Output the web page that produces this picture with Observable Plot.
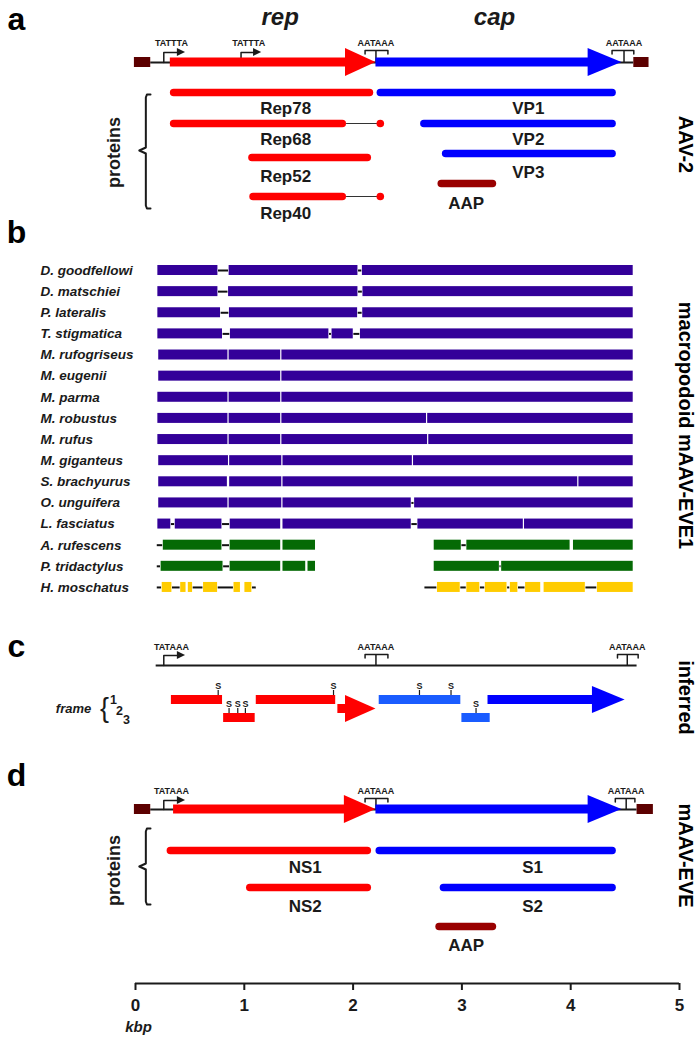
<!DOCTYPE html>
<html><head><meta charset="utf-8">
<script src="https://cdn.jsdelivr.net/npm/d3@7"></script>
<script src="https://cdn.jsdelivr.net/npm/@observablehq/plot@0.6"></script>
<style>
html,body{margin:0;padding:0;background:#fff;}
#chart svg{display:block;}
#chart g[aria-label="x-axis tick label"]{font-weight:bold !important;font-size:17px !important;}
</style></head><body><div id="chart"></div>
<script>
// ================= DATA (kbp) =================
// --- a: AAV-2 ---
const aavBoxes = [[-0.01, 0.14], [4.58, 4.72]];
const aavGeneNames = ["rep", "cap"];
const aavGeneStart = [0.32, 2.21];
const aavGeneHead = [1.93, 4.16];
const aavGeneEnd = [2.21, 4.47];
const aavPromoterLabels = ["TATTTA", "TATTTA"];
const aavPromoterX = [0.26, 0.97];
const aavPromoterEnd = [0.46, 1.16];
const aavPolyALabels = ["AATAAA", "AATAAA"];
const aavPolyAX = [2.21, 4.49];
const aavPolyASpan = [[2.11, 2.32], [4.38, 4.58]];
const aavRepNames = ["Rep78", "Rep68", "Rep52", "Rep40"];
const aavRepStart = [0.32, 0.32, 1.04, 1.05];
const aavRepEnd = [2.19, 1.94, 2.17, 1.94];
const aavRepSplice = [null, 2.25, null, 2.25];
const aavCapNames = ["VP1", "VP2", "VP3"];
const aavCapStart = [2.22, 2.62, 2.82];
const aavCapEnd = [4.42, 4.42, 4.42];
const aavAAP = [2.78, 3.32];

// --- b: macropodoid mAAV-EVE1 ---
const eveSpecies = ["D. goodfellowi","D. matschiei","P. lateralis","T. stigmatica","M. rufogriseus","M. eugenii","M. parma","M. robustus","M. rufus","M. giganteus","S. brachyurus","O. unguifera","L. fasciatus","A. rufescens","P. tridactylus","H. moschatus"];
const eveClade = ["macropodid","macropodid","macropodid","macropodid","macropodid","macropodid","macropodid","macropodid","macropodid","macropodid","macropodid","macropodid","macropodid","potoroid","potoroid","hypsiprymnodontid"];
const eveBlocks = [
  [[0.2,0.763],[0.855,2.05],[2.08,4.58]],
  [[0.2,0.763],[0.85,2.05],[2.085,4.58]],
  [[0.2,0.787],[0.858,2.047],[2.083,4.58]],
  [[0.2,0.805],[0.867,1.783],[1.801,2.007],[2.062,4.58]],
  [[0.208,0.855],[0.855,1.34],[1.34,4.58]],
  [[0.208,1.34],[1.34,4.58]],
  [[0.2,0.855],[0.855,1.34],[1.34,4.58]],
  [[0.2,0.855],[0.855,1.34],[1.34,2.68],[2.68,4.58]],
  [[0.2,0.855],[0.855,1.34],[1.34,2.69],[2.69,4.58]],
  [[0.208,0.86],[0.86,1.35],[1.35,2.55],[2.55,4.58]],
  [[0.208,0.85],[0.86,1.35],[1.35,4.07],[4.07,4.58]],
  [[0.208,0.855],[0.855,1.35],[1.35,2.54],[2.56,4.58]],
  [[0.2,0.33],[0.36,0.8],[0.865,1.34],[1.35,2.54],[2.59,3.57],[3.57,4.58]],
  [[0.25,0.8],[0.864,1.34],[1.35,1.66],[2.74,3.0],[3.04,4.0],[4.02,4.58]],
  [[0.23,0.81],[0.864,1.34],[1.35,1.57],[1.58,1.66],[2.74,3.35],[3.36,4.58]],
  [[0.24,0.34],[0.41,0.47],[0.48,0.53],[0.62,0.76],[0.9,0.97],[1.0,1.075],[2.77,2.99],[3.04,3.17],[3.21,3.42],[3.44,3.52],[3.58,3.73],[3.75,4.14],[4.24,4.58]]
];
const eveLinks = [
  [[0.763,0.855],[2.05,2.08]],
  [[0.763,0.85],[2.05,2.085]],
  [[0.787,0.858],[2.047,2.083]],
  [[0.805,0.867],[1.783,1.801],[2.007,2.062]],
  [],[],[],[],[],[],[],
  [[2.54,2.56]],
  [[0.33,0.36],[0.8,0.865],[2.54,2.59]],
  [[0.2,0.25],[0.8,0.864],[3.0,3.04]],
  [[0.2,0.23],[0.81,0.864],[3.35,3.36]],
  [[0.2,0.24],[0.34,0.41],[0.53,0.62],[0.76,0.9],[1.075,1.11],[2.66,2.77],[2.99,3.04],[3.17,3.21],[3.42,3.44],[3.52,3.58],[4.14,4.24]]
];

// --- c: inferred ---
const ancSpan = [0.19, 4.61];
const ancPromoterLabels = ["TATAAA"];
const ancPromoterX = [0.26];
const ancPromoterEnd = [0.46];
const ancPolyALabels = ["AATAAA", "AATAAA"];
const ancPolyAX = [2.21, 4.52];
const ancPolyASpan = [[2.11, 2.32], [4.43, 4.62]];
const orfFrame = [1, 3, 1, 1, 3];
const orfGene = ["rep", "rep", "rep", "cap", "cap"];
const orfStart = [0.33, 0.81, 1.11, 2.24, 3.00];
const orfEnd = [0.80, 1.10, 1.84, 2.99, 3.26];
const ancArrowFrame = [2, 1];
const ancArrowGene = ["rep", "cap"];
const ancArrowStart = [1.86, 3.24];
const ancArrowHead = [1.93, 4.20];
const ancArrowEnd = [2.21, 4.50];
const stopFrame = [1, 3, 3, 3, 1, 1, 1, 3];
const stopX = [0.76, 0.86, 0.94, 1.01, 1.82, 2.61, 2.90, 3.13];
const frameNames = ["1", "2", "3"];

// --- d: mAAV-EVE ---
const mBoxes = [[-0.01, 0.14], [4.61, 4.76]];
const mGeneNames = ["rep", "cap"];
const mGeneStart = [0.35, 2.21];
const mGeneHead = [1.92, 4.16];
const mGeneEnd = [2.21, 4.47];
const mPromoterLabels = ["TATAAA"];
const mPromoterX = [0.26];
const mPromoterEnd = [0.46];
const mPolyALabels = ["AATAAA", "AATAAA"];
const mPolyAX = [2.21, 4.51];
const mPolyASpan = [[2.11, 2.32], [4.41, 4.59]];
const mNSNames = ["NS1", "NS2"];
const mNSStart = [0.29, 1.02];
const mNSEnd = [2.17, 2.17];
const mSNames = ["S1", "S2"];
const mSStart = [2.21, 2.80];
const mSEnd = [4.42, 4.42];
const mAAP = [2.76, 3.32];

const axisTicks = [0, 1, 2, 3, 4, 5];
const panelLetters = ["a", "b", "c", "d"];
const sideLabels = ["AAV-2", "macropodoid mAAV-EVE1", "inferred", "mAAV-EVE"];

// ================= LAYOUT & STYLE =================
const FONT = "'Liberation Sans', Arial, Helvetica, sans-serif";
const INK = "#1a1a1a";
const geneColor = {rep: "#ff0000", cap: "#0000ff", aap: "#990000"};
const orfColor = {rep: "#ff0000", cap: "#1a5cff"};
const cladeColor = {macropodid: "#330099", potoroid: "#056a05", hypsiprymnodontid: "#ffcc00"};
const BOX = "#5c0000";
const capK = 3.8 / 108.8;

const LA = {sig: 43, polyBar: 50, promoterTop: 52, genome: 62, title: 17, titleX: [1.33, 3.30],
  repY: [92, 123, 157, 196], repLabelY: [108, 139, 176, 213], capY: [92, 123, 153], capLabelY: [108, 139, 172],
  aapY: 183, aapLabelY: 203, bracket: [94, 150, 208], proteinsY: 152,
  repLabelX: 1.38, capLabelX: 3.61, aapLabelX: 3.04};
const LB = {first: 270, step: 21.13, half: 5};
const LC = {sig: 647, polyBar: 654, promoterTop: 655, genome: 665, frameY: {1: 699.5, 2: 708.5, 3: 717.5},
  digitDx: [-22, -16, -9], digitDy: [0, 1.5, 2]};
const LD = {sig: 791, polyBar: 798, promoterTop: 800, genome: 809,
  nsY: [850, 887], nsLabelY: [867, 906], sY: [850, 887], sLabelY: [867, 906],
  aapY: 926, aapLabelY: 945, bracket: [828, 866, 904], proteinsY: 870,
  nsLabelX: 1.56, sLabelX: 3.65, aapLabelX: 3.04};
const letterY = [19, 232, 646, 775];
const sideY = [144, 425, 697, 855];
const AXIS_Y = 983, KBP_Y = 1027;
const bracketX = {end: 0.138, stem: 0.095, tip: 0.035};

const marks = [];

// ---------- helpers ----------
function genomeMarks(g, L) {
  const out = [];
  out.push(Plot.ruleY([L.genome], {x1: g.span[0], x2: g.span[1], stroke: INK, strokeWidth: 2}));
  const pr = g.promoterX.map((x, i) => ({x, end: g.promoterEnd[i], label: g.promoterLabels[i]}));
  out.push(Plot.line(pr.flatMap((p, i) => [
    {i, x: p.x, y: L.genome}, {i, x: p.x, y: L.promoterTop}, {i, x: p.end - 0.06, y: L.promoterTop}]),
    {x: "x", y: "y", z: "i", stroke: INK, strokeWidth: 1.5}));
  out.push(Plot.areaY(pr.flatMap((p, i) => [
    {i, x: p.end - 0.075, y1: L.promoterTop - 4, y2: L.promoterTop + 4},
    {i, x: p.end, y1: L.promoterTop, y2: L.promoterTop}]),
    {x: "x", y1: "y1", y2: "y2", z: "i", fill: INK}));
  out.push(Plot.text(pr, {x: d => d.x + 0.07, y: () => L.sig, text: "label", fontSize: 9, fontWeight: "bold", fill: INK}));
  const pa = g.polyAX.map((x, i) => ({x, x1: g.polyASpan[i][0], x2: g.polyASpan[i][1], label: g.polyALabels[i]}));
  out.push(Plot.line(pa.flatMap((p, i) => [
    {i, x: p.x1, y: L.polyBar + 3.5}, {i, x: p.x1, y: L.polyBar}, {i, x: p.x2, y: L.polyBar}, {i, x: p.x2, y: L.polyBar + 3.5}]),
    {x: "x", y: "y", z: "i", stroke: INK, strokeWidth: 1.5}));
  out.push(Plot.ruleX(pa, {x: "x", y1: () => L.polyBar, y2: () => L.genome, stroke: INK, strokeWidth: 1.5}));
  out.push(Plot.text(pa, {x: "x", y: () => L.sig, text: "label", fontSize: 9, fontWeight: "bold", fill: INK}));
  if (g.geneStart) {
    const genes = g.geneStart.map((s, i) => ({s, h: g.geneHead[i], e: g.geneEnd[i], c: geneColor[g.geneNames[i]]}));
    out.push(Plot.rect(genes, {x1: "s", x2: d => d.h + 0.01, y1: () => L.genome - 4.5, y2: () => L.genome + 4.5, fill: "c"}));
    out.push(Plot.areaY(genes.flatMap((d, i) => [
      {i, x: d.h, y1: L.genome - 14, y2: L.genome + 14, c: d.c},
      {i, x: d.e, y1: L.genome, y2: L.genome, c: d.c}]),
      {x: "x", y1: "y1", y2: "y2", z: "i", fill: "c"}));
  }
  if (g.boxes) {
    out.push(Plot.rect(g.boxes, {x1: d => d[0], x2: d => d[1], y1: () => L.genome - 5, y2: () => L.genome + 5, fill: BOX}));
  }
  return out;
}

function proteinMarks(items) {
  return [Plot.ruleY(items, {x1: d => d.s + capK, x2: d => d.e - capK, y: "y", stroke: "c", strokeWidth: 7.5, strokeLinecap: "round"})];
}
function labelMarks(items) {
  return [Plot.text(items, {x: "x", y: "y", text: "t", fontSize: 17, fontWeight: "bold", fill: INK})];
}
function bracketMarks(b) {
  const [top, mid, bot] = b;
  const pts = [
    {x: bracketX.end, y: top}, {x: bracketX.stem + 0.01, y: top}, {x: bracketX.stem, y: top + 3},
    {x: bracketX.stem, y: mid - 3}, {x: bracketX.tip, y: mid}, {x: bracketX.stem, y: mid + 3},
    {x: bracketX.stem, y: bot - 3}, {x: bracketX.stem + 0.01, y: bot}, {x: bracketX.end, y: bot}];
  return [Plot.line(pts, {x: "x", y: "y", stroke: INK, strokeWidth: 2, curve: "linear"})];
}

// ---------- panel a ----------
marks.push(...genomeMarks({boxes: aavBoxes, span: [aavBoxes[0][1], aavBoxes[1][0]], geneNames: aavGeneNames, geneStart: aavGeneStart, geneHead: aavGeneHead, geneEnd: aavGeneEnd,
  promoterLabels: aavPromoterLabels, promoterX: aavPromoterX, promoterEnd: aavPromoterEnd,
  polyALabels: aavPolyALabels, polyAX: aavPolyAX, polyASpan: aavPolyASpan}, LA));
marks.push(Plot.text(aavGeneNames, {x: (d, i) => LA.titleX[i], y: () => LA.title, fontSize: 24, fontWeight: "bold", fontStyle: "italic", fill: INK}));
const repTails = aavRepNames.map((n, i) => ({s: aavRepEnd[i], e: aavRepSplice[i], y: LA.repY[i]})).filter(d => d.e != null);
marks.push(Plot.ruleY(repTails, {x1: "s", x2: "e", y: "y", stroke: "#333", strokeWidth: 1.2}));
marks.push(Plot.dot(repTails, {x: "e", y: "y", r: 3.8, fill: geneColor.rep, stroke: "none"}));
marks.push(...proteinMarks([
  ...aavRepNames.map((n, i) => ({s: aavRepStart[i], e: aavRepEnd[i], y: LA.repY[i], c: geneColor.rep})),
  ...aavCapNames.map((n, i) => ({s: aavCapStart[i], e: aavCapEnd[i], y: LA.capY[i], c: geneColor.cap})),
  {s: aavAAP[0], e: aavAAP[1], y: LA.aapY, c: geneColor.aap}]));
marks.push(...labelMarks([
  ...aavRepNames.map((t, i) => ({t, x: LA.repLabelX, y: LA.repLabelY[i]})),
  ...aavCapNames.map((t, i) => ({t, x: LA.capLabelX, y: LA.capLabelY[i]})),
  {t: "AAP", x: LA.aapLabelX, y: LA.aapLabelY}]));
marks.push(...bracketMarks(LA.bracket));

// ---------- panel b ----------
const rowY = i => LB.first + i * LB.step;
const eveBars = eveSpecies.flatMap((s, i) => eveBlocks[i].map(b => ({i, x1: b[0], x2: b[1], c: cladeColor[eveClade[i]]})));
const eveLinkData = eveSpecies.flatMap((s, i) => eveLinks[i].map(b => ({i, x1: b[0], x2: b[1]})));
marks.push(Plot.ruleY(eveLinkData, {x1: "x1", x2: "x2", y: d => rowY(d.i), stroke: "#111", strokeWidth: 2}));
marks.push(Plot.rect(eveBars, {x1: "x1", x2: "x2", y1: d => rowY(d.i) - LB.half, y2: d => rowY(d.i) + LB.half, fill: "c", insetLeft: 0.6, insetRight: 0.6}));
marks.push(Plot.text(eveSpecies, {y: (d, i) => rowY(i), frameAnchor: "left", dx: -95, textAnchor: "start", fontSize: 13.5, fontWeight: "bold", fontStyle: "italic", fill: INK}));

// ---------- panel c ----------
marks.push(...genomeMarks({span: ancSpan, promoterLabels: ancPromoterLabels, promoterX: ancPromoterX, promoterEnd: ancPromoterEnd,
  polyALabels: ancPolyALabels, polyAX: ancPolyAX, polyASpan: ancPolyASpan}, LC));
const orfs = orfStart.map((s, i) => ({s, e: orfEnd[i], f: orfFrame[i], c: orfColor[orfGene[i]]}));
marks.push(Plot.rect(orfs, {x1: "s", x2: "e", y1: d => LC.frameY[d.f] - 4.5, y2: d => LC.frameY[d.f] + 4.5, fill: "c"}));
const ancArrows = ancArrowStart.map((s, i) => ({i, s, h: ancArrowHead[i], e: ancArrowEnd[i], f: ancArrowFrame[i], c: geneColor[ancArrowGene[i]]}));
marks.push(Plot.rect(ancArrows, {x1: "s", x2: d => d.h + 0.01, y1: d => LC.frameY[d.f] - 4.5, y2: d => LC.frameY[d.f] + 4.5, fill: "c"}));
marks.push(Plot.areaY(ancArrows.flatMap(d => [
  {i: d.i, x: d.h, y1: LC.frameY[d.f] - 13.5, y2: LC.frameY[d.f] + 13.5, c: d.c},
  {i: d.i, x: d.e, y1: LC.frameY[d.f], y2: LC.frameY[d.f], c: d.c}]),
  {x: "x", y1: "y1", y2: "y2", z: "i", fill: "c"}));
const stops = stopX.map((x, i) => ({x, f: stopFrame[i]}));
marks.push(Plot.ruleX(stops, {x: "x", y1: d => LC.frameY[d.f] - 4.5, y2: d => LC.frameY[d.f] - 9.5, stroke: INK, strokeWidth: 1.2}));
marks.push(Plot.text(stops, {x: "x", y: d => LC.frameY[d.f] - 14, text: () => "S", fontSize: 9, fontWeight: "bold", fill: INK}));
marks.push(Plot.text(["frame"], {y: () => LC.frameY[2], frameAnchor: "left", dx: -62, textAnchor: "middle", fontSize: 13, fontWeight: "bold", fontStyle: "italic", fill: INK}));
marks.push(Plot.text(["{"], {y: () => LC.frameY[2] - 1, frameAnchor: "left", dx: -31, textAnchor: "middle", fontSize: 27, fill: INK}));
frameNames.forEach((t, i) => {
  marks.push(Plot.text([t], {y: () => LC.frameY[i + 1] + LC.digitDy[i], frameAnchor: "left", dx: LC.digitDx[i], textAnchor: "middle", fontSize: 12.5, fontWeight: "bold", fill: INK}));
});

// ---------- panel d ----------
marks.push(...genomeMarks({boxes: mBoxes, span: [mBoxes[0][1], mBoxes[1][0]], geneNames: mGeneNames, geneStart: mGeneStart, geneHead: mGeneHead, geneEnd: mGeneEnd,
  promoterLabels: mPromoterLabels, promoterX: mPromoterX, promoterEnd: mPromoterEnd,
  polyALabels: mPolyALabels, polyAX: mPolyAX, polyASpan: mPolyASpan}, LD));
marks.push(...proteinMarks([
  ...mNSNames.map((n, i) => ({s: mNSStart[i], e: mNSEnd[i], y: LD.nsY[i], c: geneColor.rep})),
  ...mSNames.map((n, i) => ({s: mSStart[i], e: mSEnd[i], y: LD.sY[i], c: geneColor.cap})),
  {s: mAAP[0], e: mAAP[1], y: LD.aapY, c: geneColor.aap}]));
marks.push(...labelMarks([
  ...mNSNames.map((t, i) => ({t, x: LD.nsLabelX, y: LD.nsLabelY[i]})),
  ...mSNames.map((t, i) => ({t, x: LD.sLabelX, y: LD.sLabelY[i]})),
  {t: "AAP", x: LD.aapLabelX, y: LD.aapLabelY}]));
marks.push(...bracketMarks(LD.bracket));

// ---------- shared labels ----------
marks.push(Plot.text(["proteins", "proteins"], {y: (d, i) => [LA.proteinsY, LD.proteinsY][i], frameAnchor: "left", dx: -21, rotate: -90, textAnchor: "middle", fontSize: 18, fontWeight: "bold", fill: INK}));
marks.push(Plot.text(panelLetters, {y: (d, i) => letterY[i], frameAnchor: "left", dx: -119, textAnchor: "middle", fontSize: 32, fontWeight: "bold", fill: "#000"}));
marks.push(Plot.text(sideLabels, {y: (d, i) => sideY[i], frameAnchor: "right", dx: 6, rotate: 90, textAnchor: "middle", fontSize: 20, fontWeight: "bold", fill: "#000"}));

// ---------- axis ----------
marks.push(Plot.ruleY([AXIS_Y], {x1: axisTicks[0], x2: axisTicks[axisTicks.length - 1], stroke: INK, strokeWidth: 2}));
marks.push(Plot.axisX({ticks: axisTicks, tickFormat: d3.format("d"), tickSize: 7, tickPadding: 8, label: null, fontSize: 17, fontWeight: "bold", strokeWidth: 2, stroke: INK, fill: INK}));
marks.push(Plot.text(["kbp"], {x: () => 0, y: () => KBP_Y, dx: 3, textAnchor: "middle", fontSize: 15, fontWeight: "bold", fontStyle: "italic", fill: INK}));

const chart = Plot.plot({
  width: 697, height: 1038,
  marginLeft: 135, marginRight: 18, marginTop: 0, marginBottom: 1038 - AXIS_Y,
  x: {domain: [0, 5]},
  y: {domain: [0, AXIS_Y], range: [0, AXIS_Y], axis: null},
  color: {type: "identity"},
  style: {fontFamily: FONT, background: "#fff", overflow: "visible"},
  marks
});
document.getElementById("chart").appendChild(chart);
</script></body></html>
